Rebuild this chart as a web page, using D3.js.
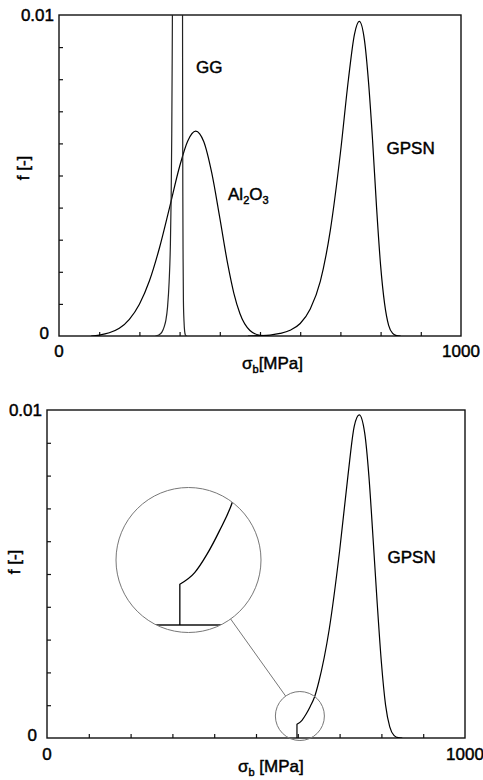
<!DOCTYPE html>
<html><head><meta charset="utf-8">
<script src="https://cdn.jsdelivr.net/npm/d3@7"></script>
<style>
body{margin:0;background:#fff;}
text{font-family:"Liberation Sans",Arial,Helvetica,sans-serif;fill:#000;stroke:#000;stroke-width:0.45px;}
</style>
</head><body>
<svg id="c" width="483" height="780"></svg>
<script>
// ---------- data ----------
const stressDomain = [0, 1000];          // MPa
const fDomain = [0, 0.01];               // f [-]
const xTickLabels = [0, 1000];
const yTickLabels = ["0", "0.01"];

// Al2O3
const alStress = [80,100,125,150,175,200,225,250,275,300,320,340,350,360,380,400,420,435,450,475,500,520];
const alF      = [0,0.00003,0.0001,0.00024,0.00052,0.00099,0.00172,0.00275,0.0040,0.00528,0.00607,0.00638,0.0063,0.00606,0.00508,0.00368,0.00222,0.00133,0.0007,0.00017,0.00002,0];

// GG (peak goes above the plot)
const ggStress = [240,248,256,262,266,270,274,277,279,280.5,281.5,282.5,285,290,297,302,305,306.5,307.3,307.6,308,308.7,309.5,311,312.5,314.5,318];
const ggF      = [0,0.00003,0.00012,0.0003,0.0005,0.0009,0.0017,0.0028,0.0043,0.0063,0.0085,0.011,0.016,0.022,0.027,0.028,0.024,0.016,0.010,0.0070,0.0045,0.0024,0.0011,0.00045,0.00015,0.00003,0];

// GPSN (full)
const gpsnStress = [470,500,525,550,575,600,625,650,675,700,720,735,747,760,770,780,790,800,810,820,830,840,850];
const gpsnF      = [0,0.00001,0.00003,0.00008,0.00018,0.00039,0.00084,0.0017,0.0033,0.0057,0.0080,0.0094,0.0098,0.0092,0.0079,0.0061,0.0040,0.0022,0.0010,0.00033,0.00008,0.00001,0];

// GPSN truncated (proof tested) - lower panel
const cutStress = 598;
const gpsnCutStress = [598,610,620,630,640,650,675,700,720,735,747,760,770,780,790,800,810,820,830,840,850];
const gpsnCutF      = [0.00042,0.00054,0.00073,0.00097,0.00125,0.0017,0.0033,0.0057,0.0080,0.0095,0.00985,0.0093,0.0080,0.0061,0.0041,0.0023,0.0010,0.00034,0.00008,0.00001,0];

// zoom region (data coords of the small circle's centre)
const zoomCenter = [605, 0.00067];

// ---------- drawing ----------
const svg = d3.select("#c");
const zip = (a, b) => a.map((v, i) => [v, b[i]]);
const defs = svg.append("defs");

function makePanel(id, box) {
  const x = d3.scaleLinear().domain(stressDomain).range([box.x0, box.x1]);
  const y = d3.scaleLinear().domain(fDomain).range([box.y1, box.y0]);
  const g = svg.append("g");
  defs.append("clipPath").attr("id", "clip" + id)
    .append("rect").attr("x", box.x0).attr("y", box.y0)
    .attr("width", box.x1 - box.x0).attr("height", box.y1 - box.y0);

  // ticks (inward)
  const xt = x.ticks(10).filter(d => d > stressDomain[0] && d < stressDomain[1]);
  const yt = y.ticks(10).filter(d => d > fDomain[0] + 1e-12 && d < fDomain[1] - 1e-12);
  g.append("g").attr("transform", `translate(0,${box.y1})`)
    .call(d3.axisBottom(x).tickValues(xt).tickSizeInner(-4).tickSizeOuter(0).tickFormat(""))
    .call(s => s.select(".domain").remove())
    .selectAll("line").attr("stroke", "#111").attr("stroke-width", 1.2);
  g.append("g").attr("transform", `translate(${box.x0},0)`)
    .call(d3.axisLeft(y).tickValues(yt).tickSizeInner(-4).tickSizeOuter(0).tickFormat(""))
    .call(s => s.select(".domain").remove())
    .selectAll("line").attr("stroke", "#111").attr("stroke-width", 1.2);

  // frame
  g.append("rect").attr("x", box.x0).attr("y", box.y0)
    .attr("width", box.x1 - box.x0).attr("height", box.y1 - box.y0)
    .attr("fill", "none").attr("stroke", "#111").attr("stroke-width", 1.4);

  // tick labels
  const fs = 17;
  g.append("text").attr("x", box.x0 - 5).attr("y", y(fDomain[1]) + 6)
    .attr("text-anchor", "end").attr("font-size", fs).text(yTickLabels[1]);
  g.append("text").attr("x", box.x0 - 10).attr("y", y(fDomain[0]) + 3)
    .attr("text-anchor", "end").attr("font-size", fs).text(yTickLabels[0]);
  g.append("text").attr("x", x(xTickLabels[0])).attr("y", box.y1 + 21 + (box.xlabDy||0))
    .attr("text-anchor", "middle").attr("font-size", fs).text(xTickLabels[0]);
  g.append("text").attr("x", x(xTickLabels[1])).attr("y", box.y1 + 21 + (box.xlabDy||0))
    .attr("text-anchor", "middle").attr("font-size", fs).text(xTickLabels[1]);

  // axis titles
  const xl = g.append("text").attr("x", box.xTitleX).attr("y", box.y1 + box.xTitleDy).attr("font-size", fs);
  xl.append("tspan").text("σ");
  xl.append("tspan").attr("font-size", 11).attr("dy", 4).text("b");
  xl.append("tspan").attr("dy", -4).text(box.space ? " [MPa]" : "[MPa]");
  g.append("text").attr("transform", `translate(${box.yTitleX},${box.yTitleY}) rotate(-90)`)
    .attr("text-anchor", "middle").attr("font-size", fs).text("f [-]");

  return {x, y, g, clip: "url(#clip" + id + ")"};
}

const lineOf = (x, y) => d3.line().x(d => x(d[0])).y(d => y(d[1])).curve(d3.curveMonotoneX);

// ---- top panel ----
const A = makePanel("A", {x0:59, x1:461, y0:15, y1:336, xTitleX:242, xTitleDy:33, yTitleX:29, yTitleY:168});
const cg = A.g.append("g").attr("clip-path", A.clip).attr("fill", "none").attr("stroke", "#000").attr("stroke-width", 1.2);
cg.append("path").attr("d", lineOf(A.x, A.y)(zip(alStress, alF)));
cg.append("path").attr("d", lineOf(A.x, A.y)(zip(ggStress, ggF))).attr("stroke", "#222");
cg.append("path").attr("d", lineOf(A.x, A.y)(zip(gpsnStress, gpsnF)));

A.g.append("text").attr("x", 196).attr("y", 73).attr("font-size", 17).text("GG");
A.g.append("text").attr("x", 386.5).attr("y", 154).attr("font-size", 17).text("GPSN");
const al = A.g.append("text").attr("x", 228).attr("y", 200).attr("font-size", 17);
al.append("tspan").text("Al");
al.append("tspan").attr("font-size", 11).attr("dy", 4).text("2");
al.append("tspan").attr("dy", -4).text("O");
al.append("tspan").attr("font-size", 11).attr("dy", 4).text("3");

// ---- bottom panel ----
const B = makePanel("B", {x0:47, x1:465, y0:410, y1:738, xlabDy:1, xTitleX:238, xTitleDy:34, space:true, yTitleX:20, yTitleY:562});
const cutPath = (x, y) => {
  const pts = zip(gpsnCutStress, gpsnCutF);
  const d = lineOf(x, y)(pts);
  return `M${x(cutStress)},${y(0)}L` + d.slice(1);
};
B.g.append("path").attr("clip-path", B.clip).attr("d", cutPath(B.x, B.y))
  .attr("fill", "none").attr("stroke", "#000").attr("stroke-width", 1.2);
B.g.append("text").attr("x", 387.5).attr("y", 563).attr("font-size", 17).text("GPSN");

// ---- magnified inset ----
const sC = [B.x(zoomCenter[0]), B.y(zoomCenter[1])];
const rS = 24.5;
const bC = [188.5, 560];
const rB = 72.5;
const k = rB / rS;
const ix = d3.scaleLinear().domain(stressDomain).range(B.x.range().map(v => bC[0] + (v - sC[0]) * k));
const iy = d3.scaleLinear().domain(fDomain).range(B.y.range().map(v => bC[1] + (v - sC[1]) * k));
defs.append("clipPath").attr("id", "clipInset").append("circle")
  .attr("cx", bC[0]).attr("cy", bC[1]).attr("r", rB);
const ig = svg.append("g").attr("clip-path", "url(#clipInset)");
ig.append("line").attr("x1", ix(stressDomain[0])).attr("x2", ix(stressDomain[1]))
  .attr("y1", iy(0)).attr("y2", iy(0)).attr("stroke", "#111").attr("stroke-width", 1.4);
ig.append("path").attr("d", cutPath(ix, iy)).attr("fill", "none").attr("stroke", "#000").attr("stroke-width", 1.3);

const circ = svg.append("g").attr("fill", "none").attr("stroke", "#777").attr("stroke-width", 1);
circ.append("circle").attr("cx", sC[0]).attr("cy", sC[1]).attr("r", rS);
circ.append("circle").attr("cx", bC[0]).attr("cy", bC[1]).attr("r", rB);
const dx = sC[0] - bC[0], dy = sC[1] - bC[1], L = Math.hypot(dx, dy);
circ.append("line")
  .attr("x1", bC[0] + dx / L * rB).attr("y1", bC[1] + dy / L * rB)
  .attr("x2", sC[0] - dx / L * rS).attr("y2", sC[1] - dy / L * rS);
</script>
</body></html>
